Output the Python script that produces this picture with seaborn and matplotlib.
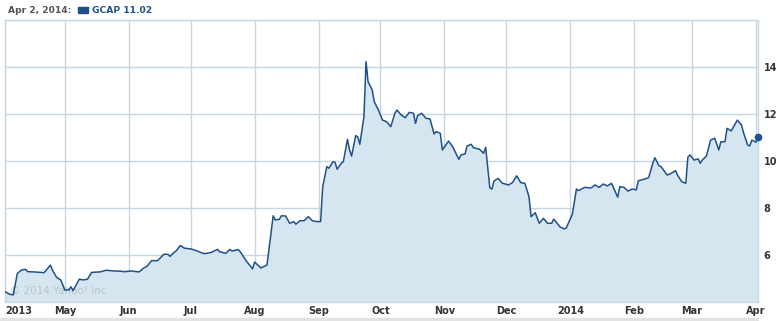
import matplotlib
matplotlib.use("Agg")
import matplotlib.pyplot as plt
from matplotlib.patches import Rectangle
import pandas as pd
import seaborn as sns

# ---- data ----
dates = [
    "2013-04-02", "2013-04-04", "2013-04-06", "2013-04-08", "2013-04-10", "2013-04-12", "2013-04-13",
    "2013-04-16", "2013-04-21", "2013-04-24", "2013-04-25", "2013-04-27", "2013-04-29",
    "2013-05-01", "2013-05-03", "2013-05-04", "2013-05-05", "2013-05-08", "2013-05-10", "2013-05-12",
    "2013-05-14", "2013-05-18", "2013-05-21", "2013-05-25", "2013-05-28", "2013-05-30",
    "2013-06-02", "2013-06-06", "2013-06-08", "2013-06-10", "2013-06-12", "2013-06-15", "2013-06-18",
    "2013-06-20", "2013-06-21", "2013-06-23", "2013-06-24", "2013-06-26", "2013-06-28",
    "2013-07-01", "2013-07-03", "2013-07-07", "2013-07-08", "2013-07-11", "2013-07-14", "2013-07-15",
    "2013-07-18", "2013-07-20", "2013-07-21", "2013-07-24", "2013-07-25", "2013-07-28", "2013-07-31",
    "2013-08-01", "2013-08-04", "2013-08-07", "2013-08-10", "2013-08-11", "2013-08-13", "2013-08-14",
    "2013-08-16", "2013-08-18", "2013-08-20", "2013-08-21", "2013-08-23", "2013-08-25", "2013-08-27",
    "2013-08-29", "2013-08-31",
    "2013-09-02", "2013-09-03", "2013-09-05", "2013-09-06", "2013-09-08", "2013-09-09", "2013-09-10",
    "2013-09-12", "2013-09-13", "2013-09-15", "2013-09-16", "2013-09-17", "2013-09-19", "2013-09-20",
    "2013-09-21", "2013-09-23", "2013-09-24", "2013-09-25", "2013-09-27", "2013-09-28", "2013-09-30",
    "2013-10-02", "2013-10-04", "2013-10-06", "2013-10-08", "2013-10-09", "2013-10-11", "2013-10-13",
    "2013-10-15", "2013-10-17", "2013-10-18", "2013-10-19", "2013-10-21", "2013-10-23", "2013-10-25",
    "2013-10-27", "2013-10-28", "2013-10-30", "2013-10-31",
    "2013-11-03", "2013-11-05", "2013-11-08", "2013-11-09", "2013-11-11", "2013-11-12", "2013-11-14",
    "2013-11-15", "2013-11-18", "2013-11-20", "2013-11-21", "2013-11-23", "2013-11-24", "2013-11-25",
    "2013-11-27", "2013-11-29",
    "2013-12-02", "2013-12-04", "2013-12-06", "2013-12-08", "2013-12-10", "2013-12-12", "2013-12-13",
    "2013-12-15", "2013-12-17", "2013-12-19", "2013-12-21", "2013-12-23", "2013-12-24", "2013-12-27",
    "2013-12-29", "2013-12-30",
    "2014-01-02", "2014-01-04", "2014-01-05", "2014-01-08", "2014-01-11", "2014-01-13", "2014-01-15",
    "2014-01-17", "2014-01-19", "2014-01-21", "2014-01-24", "2014-01-25", "2014-01-27", "2014-01-29",
    "2014-01-31",
    "2014-02-02", "2014-02-03", "2014-02-06", "2014-02-08", "2014-02-10", "2014-02-11", "2014-02-13",
    "2014-02-14", "2014-02-17", "2014-02-19", "2014-02-21", "2014-02-22", "2014-02-24", "2014-02-26",
    "2014-02-27", "2014-02-28",
    "2014-03-02", "2014-03-04", "2014-03-05", "2014-03-06", "2014-03-08", "2014-03-10", "2014-03-12",
    "2014-03-14", "2014-03-15", "2014-03-17", "2014-03-18", "2014-03-20", "2014-03-23", "2014-03-25",
    "2014-03-26", "2014-03-28", "2014-03-29", "2014-03-30", "2014-04-01", "2014-04-02",
]
prices = [
    4.44, 4.34, 4.30, 5.22, 5.36, 5.39, 5.29,
    5.28, 5.25, 5.57, 5.36, 5.05, 4.94,
    4.51, 4.51, 4.65, 4.48, 4.97, 4.94, 4.97,
    5.26, 5.28, 5.35, 5.32, 5.31, 5.29,
    5.32, 5.28, 5.43, 5.53, 5.76, 5.76, 6.03,
    6.03, 5.94, 6.11, 6.18, 6.40, 6.29,
    6.26, 6.21, 6.07, 6.06, 6.11, 6.24, 6.14,
    6.07, 6.24, 6.17, 6.23, 6.14, 5.74, 5.41,
    5.70, 5.45, 5.57, 7.67, 7.49, 7.52, 7.67,
    7.66, 7.35, 7.42, 7.31, 7.46, 7.46, 7.63,
    7.46, 7.42,
    7.42, 8.91, 9.76, 9.69, 9.97, 9.94, 9.65,
    9.90, 9.97, 10.92, 10.47, 10.21, 11.08, 11.03,
    10.71, 11.89, 14.23, 13.37, 13.02, 12.52, 12.17,
    11.74, 11.67, 11.46, 12.03, 12.17, 11.96, 11.84,
    12.07, 12.03, 11.60, 11.93, 12.03, 11.82, 11.79,
    11.15, 11.25, 11.18, 10.47,
    10.85, 10.61, 10.07, 10.26, 10.30, 10.64, 10.71,
    10.57, 10.50, 10.33, 10.58, 8.86, 8.80, 9.15,
    9.26, 9.06,
    8.98, 9.08, 9.37, 9.08, 9.05, 8.48, 7.63,
    7.80, 7.35, 7.56, 7.35, 7.35, 7.53, 7.20,
    7.11, 7.14,
    7.73, 8.81, 8.74, 8.88, 8.85, 8.98, 8.88,
    9.02, 8.94, 9.05, 8.46, 8.91, 8.88, 8.72,
    8.81,
    8.77, 9.16, 9.23, 9.29, 9.90, 10.14, 9.80,
    9.76, 9.40, 9.48, 9.59, 9.40, 9.12, 9.05,
    10.16, 10.26,
    10.04, 10.09, 9.90, 10.04, 10.21, 10.89, 10.97,
    10.47, 10.82, 10.82, 11.39, 11.28, 11.74, 11.53,
    11.20, 10.68, 10.64, 10.89, 10.80, 11.02,
]
tick_dates = ["2013-04-02", "2013-05-01", "2013-06-01", "2013-07-01", "2013-08-01", "2013-09-01",
              "2013-10-01", "2013-11-01", "2013-12-01", "2014-01-01", "2014-02-01", "2014-03-01",
              "2014-04-01"]
tick_labels = ["2013", "May", "Jun", "Jul", "Aug", "Sep", "Oct", "Nov", "Dec", "2014", "Feb", "Mar", "Apr"]
y_ticks = [6, 8, 10, 12, 14]
header_date = "Apr 2, 2014:"
header_series = "GCAP 11.02"

df = pd.DataFrame({"date": pd.to_datetime(dates), "price": prices})

# ---- style ----
sns.set_style("white")
plt.rcParams["font.family"] = ["DejaVu Sans"]

LINE = "#1f5189"
FILL = "#d6e6f1"
GRID = "#c6d7e3"
TEXT = "#333333"
FS = 7

W, H = 778, 321
fig = plt.figure(figsize=(W / 100, H / 100), dpi=100)
left, right, top, bottom = 5, 758, 20, 302
ax = fig.add_axes([left / W, 1 - bottom / H, (right - left) / W, (bottom - top) / H])

ymin, ymax = 4, 16
ax.fill_between(df["date"], df["price"], ymin, color=FILL, linewidth=0, zorder=1)
sns.lineplot(data=df, x="date", y="price", ax=ax, color=LINE, linewidth=1.1, zorder=3)
ax.plot(df["date"].iloc[-1:], df["price"].iloc[-1:], "o", color=LINE, markersize=4.5, zorder=4,
        clip_on=False)

ax.set_xlim(pd.Timestamp("2013-04-02"), pd.Timestamp("2014-04-02"))
ax.set_ylim(ymin, ymax)

ax.set_xticks(pd.to_datetime(tick_dates))
ax.set_xticklabels(tick_labels)
ax.set_yticks(y_ticks)
ax.set_yticklabels([str(v) for v in y_ticks])
ax.yaxis.tick_right()
ax.tick_params(axis="both", length=0, labelsize=FS, colors=TEXT)
ax.tick_params(axis="x", pad=3)
ax.tick_params(axis="y", pad=4)
for lab in ax.get_xticklabels() + ax.get_yticklabels():
    lab.set_fontweight("bold")
ax.get_xticklabels()[0].set_horizontalalignment("left")
ax.set_xlabel("")
ax.set_ylabel("")

ax.grid(True, color=GRID, linewidth=1.0, zorder=0)
ax.set_axisbelow(True)
for s in ["left", "right", "top", "bottom"]:
    ax.spines[s].set_color(GRID)
    ax.spines[s].set_linewidth(1.0)

# watermark
ax.text(0.007, 0.02, "\u00a9 2014 Yahoo! Inc.", transform=ax.transAxes, fontsize=7.5,
        color="#b9c3cb", ha="left", va="bottom", zorder=2)

# header
fig.text(8 / W, 1 - 10.5 / H, header_date, fontsize=6.6, fontweight="bold", color="#555555",
         ha="left", va="center")
fig.patches.append(Rectangle((78 / W, 1 - 13 / H), 10 / W, 6 / H, transform=fig.transFigure,
                             color=LINE, zorder=5))
fig.text(92 / W, 1 - 10.5 / H, header_series, fontsize=6.6, fontweight="bold", color=LINE,
         ha="left", va="center")

# bottom grey band
fig.patches.append(Rectangle((0, 0), right / W, 3 / H, transform=fig.transFigure,
                             color="#e2e2e2", zorder=0))

fig.savefig("out.png", dpi=100)
